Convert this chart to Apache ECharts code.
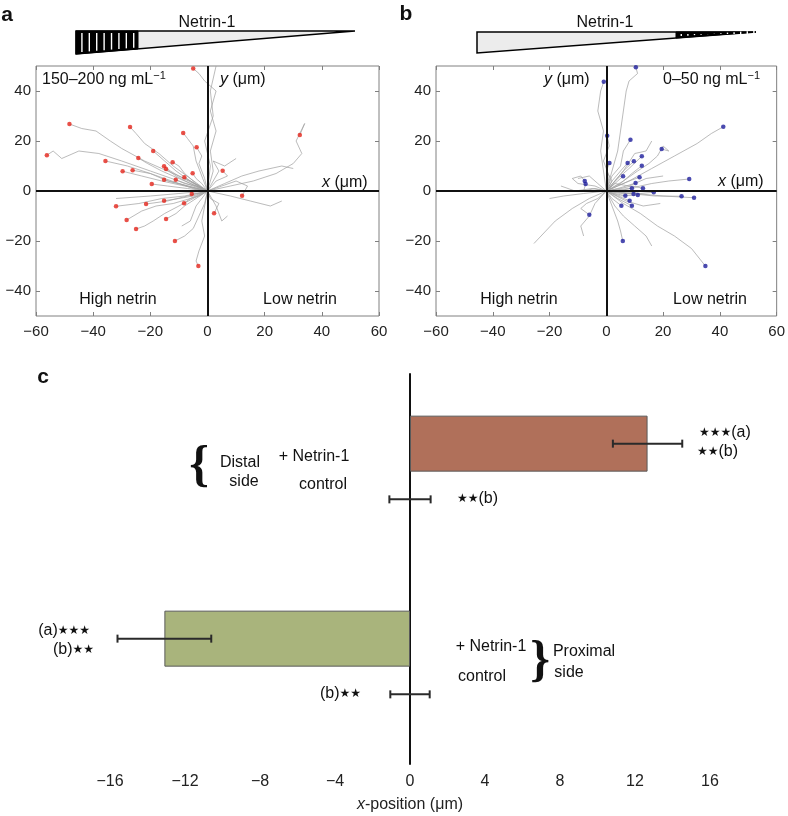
<!DOCTYPE html>
<html>
<head>
<meta charset="utf-8">
<script src="https://cdn.jsdelivr.net/npm/echarts@6/dist/echarts.min.js"></script>
<style>html,body{margin:0;padding:0;background:#fff}#c{width:788px;height:816px}</style>
</head>
<body>
<div id="c"></div>
<script>
// ---------- DATA ----------
// Panel a (150–200 ng/mL, high netrin on the left): trajectories ending at a red dot
const tracksA = [
  [[0,0],[2,8],[1,16],[3,24],[1,32],[3,40],[-1,44],[-3,47],[-5,49]],
  [[0,0],[-6,4],[-14,8],[-22,12],[-30,17],[-34,20],[-39,24],[-44,25],[-48.3,26.8]],
  [[0,0],[-10,4],[-20,8],[-30,12],[-38,15],[-45,16],[-51,13],[-54,16],[-56.2,14.3]],
  [[0,0],[-6,5],[-12,10],[-17,15],[-22,19],[-25,23],[-27.1,25.6]],
  [[0,0],[-2,6],[-4,12],[-5,18],[-7,21],[-8.5,23.2]],
  [[0,0],[-1,5],[-3,11],[-2,14],[-3.8,17.5]],
  [[0,0],[-6,4],[-11,8],[-15,12],[-19,16]],
  [[0,0],[-8,4],[-16,8],[-21,11],[-24.2,13.2]],
  [[0,0],[-10,3],[-20,7],[-28,10],[-35.7,12]],
  [[0,0],[-4,3],[-8,7],[-10,10],[-12.2,11.5]],
  [[0,0],[-5,3],[-10,6],[-13,8],[-15.2,9.9]],
  [[0,0],[-6,3],[-11,6],[-14.5,8.8]],
  [[0,0],[-8,2],[-16,4],[-23,6],[-29.7,7.9]],
  [[0,0],[-7,2],[-14,4],[-20,7],[-26.2,8.3]],
  [[0,0],[-2,3],[-4,5],[-5.2,7.1]],
  [[0,0],[-5,1],[-10,3],[-15.2,4.5]],
  [[0,0],[-4,2],[-8,3],[-11.1,4.5]],
  [[0,0],[-3,2],[-6,4],[-8.1,5.5]],
  [[0,0],[-7,1],[-14,2],[-19.5,2.8]],
  [[0,0],[3,4],[7,6],[5.3,8.1]],
  [[0,0],[-3,-1],[-5.5,-1.2]],
  [[0,0],[-8,-2],[-16,-3],[-24,-5],[-32,-6.1]],
  [[0,0],[-7,-2],[-14,-4],[-21.5,-5.2]],
  [[0,0],[-5,-2],[-10,-3],[-15.2,-3.9]],
  [[0,0],[-3,-2],[-6,-3],[-8.2,-4.9]],
  [[0,0],[-6,-3],[-12,-5],[-18,-6],[-23,-8],[-28.3,-11.6]],
  [[0,0],[-4,-3],[-8,-6],[-11,-9],[-14.5,-11.2]],
  [[0,0],[-5,-3],[-10,-6],[-15,-9],[-19,-12],[-22,-14],[-25,-15.2]],
  [[0,0],[1,-3],[4,-5],[2.3,-8.9]],
  [[0,0],[-1,-5],[-3,-10],[-5,-15],[-8,-18],[-11.4,-20]],
  [[0,0],[-1,-6],[-2,-12],[-1,-18],[-3,-24],[-4,-28],[-3.2,-30]],
  [[0,0],[8,2],[16,4],[24,7],[30,11],[33,15],[31,20],[34,27],[32.3,22.4]],
  [[0,0],[5,2],[10,4],[14,2],[12.1,-1.9]]
];
// Panel a trajectories without a visible end dot
const openA = [
  [[0,0],[1,10],[-1,20],[2,30],[1,40],[3,50]],
  [[0,0],[6,3],[12,6],[18,8],[26,10],[30,9]],
  [[0,0],[8,-2],[15,-4],[22,-6],[26,-4]],
  [[0,0],[4,8],[2,12],[6,10],[10,13]],
  [[0,0],[-4,-6],[-6,-12],[-9,-14]],
  [[0,0],[3,-6],[5,-12],[7,-10]],
  [[0,0],[-10,-1],[-20,-2],[-32,-3]]
];
// Panel b (0–50 ng/mL, low netrin on the left): trajectories ending at a blue dot
const tracksB = [
  [[0,0],[-1,8],[-2,16],[-1,24],[-3,32],[-2,40],[-0.9,43.7]],
  [[0,0],[2,8],[4,16],[5,24],[6,32],[7,40],[8,44],[11,47],[10.4,49.5]],
  [[0,0],[1,6],[-1,12],[1,18],[0.3,22.1]],
  [[0,0],[2,4],[0,8],[1.1,11.2]],
  [[0,0],[-4,2],[-10,3],[-12,5],[-9,6],[-7.6,4]],
  [[0,0],[-4,1],[-8,0],[-7.3,2.8]],
  [[0,0],[-3,-3],[-7,-5],[-9,-7],[-6,-9.5]],
  [[0,0],[8,4],[16,9],[24,14],[32,19],[37,23],[41.2,25.7]],
  [[0,0],[2,6],[5,10],[6,16],[8.5,20.5]],
  [[0,0],[6,4],[11,8],[15,11],[18,14],[20,18],[22,16],[19.5,16.8]],
  [[0,0],[4,5],[8,9],[12.5,13.9]],
  [[0,0],[3,4],[6,8],[9.7,11.9]],
  [[0,0],[2,4],[5,8],[7.5,11.2]],
  [[0,0],[5,3],[9,7],[12.5,10.1]],
  [[0,0],[2,2],[4,4],[5.9,5.9]],
  [[0,0],[4,2],[8,4],[11.7,5.5]],
  [[0,0],[8,1],[16,3],[22,4],[29.2,4.8]],
  [[0,0],[4,1],[7,2],[10.3,3.2]],
  [[0,0],[4,0],[9,1.1]],
  [[0,0],[5,1],[9,2],[12.9,1.1]],
  [[0,0],[6,0],[12,-1],[16.7,-0.5]],
  [[0,0],[5,-1],[9.6,-1.2]],
  [[0,0],[5,-2],[11.1,-1.6]],
  [[0,0],[3,-1],[6.7,-1.9]],
  [[0,0],[8,-1],[17,-2],[26.5,-2.1]],
  [[0,0],[10,-1],[20,-2],[30.9,-2.7]],
  [[0,0],[4,-2],[8.2,-3.9]],
  [[0,0],[4,-3],[9,-5.9]],
  [[0,0],[2,-3],[5.3,-5.9]],
  [[0,0],[6,-5],[12,-9],[18,-14],[24,-18],[30,-23],[34.9,-30]],
  [[0,0],[2,-6],[4,-12],[5,-16],[5.8,-20]]
];
// Panel b trajectories without a visible end dot
const openB = [
  [[0,0],[-6,-3],[-12,-7],[-18,-12],[-25.5,-21]],
  [[0,0],[-8,-1],[-15,-2],[-20,-3]],
  [[0,0],[-5,1],[-11,0],[-16,2]],
  [[0,0],[-4,-5],[-6,-10],[-9,-14],[-8,-18]],
  [[0,0],[3,-6],[6,-10],[10,-14],[14,-18],[16,-22]],
  [[0,0],[6,8],[10,15],[14,16],[16,20]],
  [[0,0],[-3,3],[-6,6],[-10,5]],
  [[0,0],[7,-4],[13,-6],[19,-5]],
  [[0,0],[3,3],[8,2],[14,5],[20,6]]
];
const scatterTicks = [-40, -20, 0, 20, 40];

// Panel c: mean x-position (µm) and error
const cCategories = ['Distal + Netrin-1', 'Distal control', 'Proximal + Netrin-1', 'Proximal control'];
const cValues = [12.67, 0, -13.1, 0];
const cErrors = [1.85, 1.1, 2.5, 1.05];
const cColors = ['#b0705a', '#ffffff', '#a9b47c', '#ffffff'];

// ---------- LAYOUT (row slots for panel c) ----------
const cSlots = [2, 4, 9, 11];
const cSlotCount = 14;

const FONT = '"Liberation Sans", Arial, sans-serif';
const minus = v => String(v).replace('-', '\u2212');

const slotLabels = Array.from({length: cSlotCount}, () => '');
cSlots.forEach((s, i) => { slotLabels[s] = cCategories[i]; });
const barData = Array.from({length: cSlotCount}, () => '-');
cSlots.forEach((s, i) => {
  barData[s] = { value: cValues[i], itemStyle: { color: cColors[i], borderWidth: cValues[i] === 0 ? 0 : 1 } };
});
const errData = cSlots.map((s, i) => [cValues[i] - cErrors[i], cValues[i] + cErrors[i], s]);

function scatterAxes(gridIndex) {
  const tickStyle = { inside: true, length: 4, lineStyle: { color: '#808080' } };
  const line = { show: false, onZero: false };
  return {
    x: [
      { gridIndex, type: 'value', min: -60, max: 60, interval: 20, position: 'bottom',
        axisLine: line, axisTick: tickStyle, splitLine: { show: false },
        axisLabel: { margin: 8, fontSize: 15, color: '#222', fontFamily: FONT, formatter: minus } },
      { gridIndex, type: 'value', min: -60, max: 60, interval: 20, position: 'top',
        axisLine: line, axisTick: tickStyle, splitLine: { show: false }, axisLabel: { show: false } }
    ],
    y: [
      { gridIndex, type: 'value', min: -50, max: 50, position: 'left',
        axisLine: line, splitLine: { show: false },
        axisTick: Object.assign({ customValues: scatterTicks }, tickStyle),
        axisLabel: { customValues: scatterTicks, margin: 5, fontSize: 15, color: '#222', fontFamily: FONT, formatter: minus } },
      { gridIndex, type: 'value', min: -50, max: 50, position: 'right',
        axisLine: line, splitLine: { show: false },
        axisTick: Object.assign({ customValues: scatterTicks }, tickStyle),
        axisLabel: { show: false } }
    ]
  };
}
const axA = scatterAxes(0), axB = scatterAxes(1);

function trackSeries(xi, yi, tracks, open, dotColor) {
  return [
    { type: 'lines', coordinateSystem: 'cartesian2d', xAxisIndex: xi, yAxisIndex: yi, polyline: true, silent: true,
      data: tracks.concat(open).map(t => ({ coords: t })),
      lineStyle: { color: '#a0a0a0', width: 0.8, opacity: 0.9 }, z: 2 },
    { type: 'scatter', xAxisIndex: xi, yAxisIndex: yi, silent: true,
      data: tracks.map(t => t[t.length - 1]), symbolSize: 4.5,
      itemStyle: { color: dotColor }, z: 4,
      markLine: { silent: true, symbol: 'none', label: { show: false },
        lineStyle: { color: '#111', width: 2, type: 'solid' },
        data: [{ xAxis: 0 }, { yAxis: 0 }] } }
  ];
}

const txt = (text, x, y, extra) => ({ type: 'text', silent: true,
  style: Object.assign({ text, x, y, fill: '#111', font: '16px ' + FONT, align: 'left', verticalAlign: 'middle' }, extra || {}) });
const rtxt = (text, x, y, rich, extra) => ({ type: 'text', silent: true,
  style: Object.assign({ text, x, y, fill: '#111', fontSize: 16, fontFamily: FONT, align: 'left', verticalAlign: 'middle', rich }, extra || {}) });
const starRich = { s: { fontSize: 12, fontFamily: '"DejaVu Sans"', fill: '#111' }, t: { fontSize: 16, fontFamily: FONT, fill: '#111' } };
const unitRich = { i: { fontStyle: 'italic', fontSize: 16, fontFamily: FONT, fill: '#111' }, n: { fontSize: 16, fontFamily: FONT, fill: '#111' },
  sup: { fontSize: 11, fontFamily: FONT, fill: '#111', padding: [0, 0, 8, 0] } };

// decorative gradient wedges
function wedge(x0, x1, yTop, yBot, stripeFrom, stripeTo, stripeLeft) {
  const els = [];
  els.push({ type: 'polygon', silent: true, shape: { points: [[x0, yTop], [x1, yTop], [x0, yBot]] },
    style: { fill: '#ececec', stroke: '#000', lineWidth: 1.5 } });
  const yb = x => yBot + (yTop - yBot) * (x - x0) / (x1 - x0);
  els.push({ type: 'polygon', silent: true,
    shape: { points: [[stripeFrom, yTop], [stripeTo, yTop], [stripeTo, yb(stripeTo)], [stripeFrom, yb(stripeFrom)]] },
    style: { fill: '#000', stroke: '#000', lineWidth: 1 } });
  const step = stripeLeft ? 7.4 : 6.6;
  for (let x = stripeFrom + step * 0.8; x < stripeTo - 2; x += step) {
    els.push({ type: 'line', silent: true, shape: { x1: x, y1: yTop + 2, x2: x, y2: yb(x) - 1.5 },
      style: { stroke: '#fff', lineWidth: 1.4 } });
  }
  return els;
}

const option = {
  animation: false,
  backgroundColor: '#fff',
  grid: [
    { left: 36, top: 66, width: 343, height: 250, show: true, borderColor: '#808080', borderWidth: 1, backgroundColor: 'transparent' },
    { left: 436, top: 66, width: 342, height: 250, show: true, borderColor: '#808080', borderWidth: 1, backgroundColor: 'transparent' },
    { left: 110, top: 374, width: 600, height: 390 }
  ],
  xAxis: [
    axA.x[0], axA.x[1], axB.x[0], axB.x[1],
    { gridIndex: 2, type: 'value', min: -16, max: 16, interval: 4,
      axisLine: { onZero: false, lineStyle: { color: '#111', width: 2 } },
      axisTick: { inside: true, length: 4, lineStyle: { color: '#111', width: 1.5 } },
      splitLine: { show: false },
      axisLabel: { margin: 10, fontSize: 16, color: '#222', fontFamily: FONT, formatter: minus },
      name: '{i|x}{n|-position (\u03bcm)}', nameLocation: 'middle', nameGap: 33,
      nameTextStyle: { rich: { i: { fontStyle: 'italic', fontSize: 16, fontFamily: FONT, color: '#222' }, n: { fontSize: 16, fontFamily: FONT, color: '#222' } } } }
  ],
  yAxis: [
    axA.y[0], axA.y[1], axB.y[0], axB.y[1],
    { gridIndex: 2, type: 'category', data: slotLabels, inverse: true,
      axisLine: { onZero: true, lineStyle: { color: '#111', width: 2 } },
      axisTick: { show: false }, axisLabel: { show: false }, splitLine: { show: false } }
  ],
  series: [
    ...trackSeries(0, 0, tracksA, openA, '#e3261c'),
    ...trackSeries(2, 2, tracksB, openB, '#1f1f9e'),
    { type: 'bar', xAxisIndex: 4, yAxisIndex: 4, data: barData, barWidth: 56, silent: true,
      itemStyle: { borderColor: '#5a5a5a', borderWidth: 1 }, z: 2 },
    { type: 'custom', xAxisIndex: 4, yAxisIndex: 4, data: errData, encode: { x: [0, 1], y: 2 }, silent: true, z: 5,
      renderItem: (params, api) => {
        const p1 = api.coord([api.value(0), api.value(2)]);
        const p2 = api.coord([api.value(1), api.value(2)]);
        const st = { stroke: '#2a2a2a', lineWidth: 2 };
        return { type: 'group', children: [
          { type: 'line', shape: { x1: p1[0], y1: p1[1], x2: p2[0], y2: p2[1] }, style: st },
          { type: 'line', shape: { x1: p1[0], y1: p1[1] - 4, x2: p1[0], y2: p1[1] + 4 }, style: st },
          { type: 'line', shape: { x1: p2[0], y1: p2[1] - 4, x2: p2[0], y2: p2[1] + 4 }, style: st }
        ] };
      } }
  ],
  graphic: [
    // panel letters
    txt('a', 7, 15, { font: 'bold 21px ' + FONT, align: 'center' }),
    txt('b', 406, 14, { font: 'bold 21px ' + FONT, align: 'center' }),
    txt('c', 43, 377, { font: 'bold 21px ' + FONT, align: 'center' }),
    // wedges
    ...wedge(76, 355, 31, 54, 76, 138, true),
    ...wedge(477, 756, 32, 53, 676, 756, false),
    txt('Netrin-1', 207, 23, { align: 'center' }),
    txt('Netrin-1', 605, 23, { align: 'center' }),
    // panel a texts
    rtxt('{n|150\u2013200 ng mL}{sup|\u22121}', 42, 80, unitRich),
    rtxt('{i|y} {n|(\u03bcm)}', 220, 80, unitRich),
    rtxt('{i|x} {n|(\u03bcm)}', 322, 183, unitRich),
    txt('High netrin', 118, 300, { align: 'center' }),
    txt('Low netrin', 300, 300, { align: 'center' }),
    // panel b texts
    rtxt('{i|y} {n|(\u03bcm)}', 544, 80, unitRich),
    rtxt('{n|0\u201350 ng mL}{sup|\u22121}', 663, 80, unitRich),
    rtxt('{i|x} {n|(\u03bcm)}', 718, 182, unitRich),
    txt('High netrin', 519, 300, { align: 'center' }),
    txt('Low netrin', 710, 300, { align: 'center' }),
    // panel c annotations
    txt('{', 199, 467, { font: 'bold 50px "Liberation Serif", serif', align: 'center' }),
    txt('Distal', 240, 463, { align: 'center' }),
    txt('side', 244, 482, { align: 'center' }),
    txt('+ Netrin-1', 314, 457, { align: 'center' }),
    txt('control', 323, 485, { align: 'center' }),
    rtxt('{s|\u2605\u2605\u2605}{t|(a)}', 699, 433, starRich),
    rtxt('{s|\u2605\u2605}{t|(b)}', 697, 452, starRich),
    rtxt('{s|\u2605\u2605}{t|(b)}', 457, 499, starRich),
    rtxt('{t|(a)}{s|\u2605\u2605\u2605}', 90, 631, starRich, { align: 'right' }),
    rtxt('{t|(b)}{s|\u2605\u2605}', 94, 650, starRich, { align: 'right' }),
    rtxt('{t|(b)}{s|\u2605\u2605}', 361, 694, starRich, { align: 'right' }),
    txt('+ Netrin-1', 491, 647, { align: 'center' }),
    txt('control', 482, 677, { align: 'center' }),
    txt('}', 540, 662, { font: 'bold 50px "Liberation Serif", serif', align: 'center' }),
    txt('Proximal', 584, 652, { align: 'center' }),
    txt('side', 569, 673, { align: 'center' })
  ]
};

const chart = echarts.init(document.getElementById('c'), null, { renderer: 'canvas' });
chart.setOption(option);
</script>
</body>
</html>
